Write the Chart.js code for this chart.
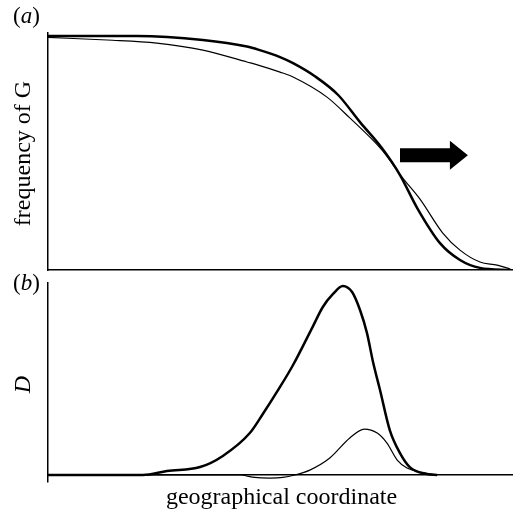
<!DOCTYPE html>
<html><head><meta charset="utf-8">
<script src="https://cdn.jsdelivr.net/npm/chart.js@4"></script>
<style>
html,body{margin:0;padding:0;background:#fff;width:513px;height:513px;overflow:hidden}
#ca{position:absolute;left:0;top:0}
#cb{position:absolute;left:0;top:268px}
</style></head><body>
<canvas id="ca" width="513" height="278"></canvas>
<canvas id="cb" width="513" height="245"></canvas>
<script>
// ---- data (geographical coordinate in arbitrary units 0..100) ----
const xFreqThick = [0, 19.1, 33.3, 42.8, 45.2, 49.9, 52.7, 57.4, 62.4, 67.1, 71.8, 75.7, 79.4, 84.3, 88.6, 92.9, 99.4];
const yFreqThick = [1.0, 1.0, 0.983, 0.955, 0.942, 0.910, 0.884, 0.828, 0.748, 0.632, 0.521, 0.406, 0.265, 0.115, 0.043, 0.009, 0];
const xFreqThin = [0, 12.7, 23.4, 33.3, 42.8, 45.2, 49.9, 52.7, 60.0, 64.9, 71.8, 76.3, 80.0, 84.9, 88.6, 92.9, 96.6, 99.4];
const yFreqThin = [0.994, 0.983, 0.970, 0.940, 0.889, 0.876, 0.846, 0.825, 0.739, 0.650, 0.513, 0.393, 0.303, 0.158, 0.085, 0.034, 0.021, 0.004];
const xDThick = [0, 20.4, 25.6, 32.7, 37.6, 43.4, 46.2, 49.9, 52.7, 57.0, 59.1, 61.3, 63.4, 65.4, 67.1, 68.6, 69.9, 71.4, 73.5, 75.7, 77.8, 81.5, 83.7];
const yDThick = [0, 0, 0.021, 0.042, 0.101, 0.222, 0.323, 0.466, 0.582, 0.788, 0.889, 0.958, 1.0, 0.968, 0.873, 0.751, 0.598, 0.450, 0.238, 0.116, 0.042, 0.005, 0];
const xDThin = [0, 41.3, 44.5, 47.7, 50.5, 53.1, 56.3, 60.6, 64.9, 68.0, 70.8, 72.9, 75.1, 77.2, 80.0, 83.7];
const yDThin = [0, 0, -0.013, -0.016, -0.013, 0, 0.026, 0.090, 0.196, 0.243, 0.222, 0.169, 0.079, 0.037, 0.016, 0];
const arrowX = [75.7, 90.3];
const arrowY = 0.491;
const panelLetters = ['a', 'b'];
const yTitles = ['frequency of G', 'D'];
const xTitle = 'geographical coordinate';

const FONT = '"Liberation Serif", "Times New Roman", serif';
const pts = (xs, ys) => xs.map((x, i) => ({x, y: ys[i]}));

const textPlugin = {
  id: 'panelText',
  afterDraw(chart, args, o) {
    const ctx = chart.ctx, a = chart.chartArea;
    ctx.save();
    ctx.fillStyle = '#000';
    ctx.textBaseline = 'alphabetic';
    let x = 13;
    const y = a.top + o.letterDy;
    ctx.font = `23px ${FONT}`; ctx.fillText('(', x, y); x += ctx.measureText('(').width;
    ctx.font = `italic 23px ${FONT}`; ctx.fillText(o.letter, x, y); x += ctx.measureText(o.letter).width;
    ctx.font = `23px ${FONT}`; ctx.fillText(')', x, y);
    ctx.save();
    ctx.translate(30, (a.top + a.bottom) / 2 + 2);
    ctx.rotate(-Math.PI / 2);
    ctx.textAlign = 'center';
    ctx.font = `${o.yItalic ? 'italic ' : ''}24px ${FONT}`;
    ctx.fillText(o.yTitle, 0, 0);
    ctx.restore();
    if (o.xTitle) {
      ctx.textAlign = 'center';
      ctx.font = `24px ${FONT}`;
      ctx.fillText(o.xTitle, (a.left + a.right) / 2 + 1, a.bottom + 22);
    }
    if (o.arrow) {
      const xs = chart.scales.x, ys = chart.scales.y;
      const x0 = xs.getPixelForValue(arrowX[0]), x1 = xs.getPixelForValue(arrowX[1]);
      const yc = ys.getPixelForValue(arrowY);
      const head = 18;
      ctx.beginPath();
      ctx.moveTo(x0, yc - 7); ctx.lineTo(x1 - head, yc - 7); ctx.lineTo(x1 - head, yc - 14.5);
      ctx.lineTo(x1, yc); ctx.lineTo(x1 - head, yc + 14.5); ctx.lineTo(x1 - head, yc + 7);
      ctx.lineTo(x0, yc + 7); ctx.closePath(); ctx.fill();
    }
    ctx.restore();
  }
};

const lineDs = (data, w) => ({data, borderColor: '#000', borderWidth: w, pointRadius: 0, fill: false, cubicInterpolationMode: 'monotone'});
const hidden = {display: false, drawTicks: false};

new Chart(document.getElementById('ca'), {
  type: 'line',
  data: {datasets: [lineDs(pts(xFreqThick, yFreqThick), 2.5), lineDs(pts(xFreqThin, yFreqThin), 1.2)]},
  options: {
    responsive: false, animation: false,
    layout: {padding: {left: 48, right: 0, top: 33, bottom: 8}},
    plugins: {legend: {display: false}, tooltip: {enabled: false},
      panelText: {letter: panelLetters[0], letterDy: -10, yTitle: yTitles[0], yItalic: false, xTitle: null, arrow: true}},
    scales: {
      x: {type: 'linear', min: 0, max: 100, grid: hidden, ticks: {display: false}, border: {display: true, color: '#000', width: 1.5}},
      y: {min: 0, max: 1.013, grid: hidden, ticks: {display: false}, border: {display: true, color: '#000', width: 1.5}}
    }
  },
  plugins: [textPlugin]
});

new Chart(document.getElementById('cb'), {
  type: 'line',
  data: {datasets: [lineDs(pts(xDThick, yDThick), 2.5), lineDs(pts(xDThin, yDThin), 1.2)]},
  options: {
    responsive: false, animation: false,
    layout: {padding: {left: 48, right: 0, top: 15, bottom: 31}},
    plugins: {legend: {display: false}, tooltip: {enabled: false},
      panelText: {letter: panelLetters[1], letterDy: 7, yTitle: yTitles[1], yItalic: true, xTitle: xTitle, arrow: false}},
    scales: {
      x: {type: 'linear', min: 0, max: 100, grid: hidden, ticks: {display: false}, border: {display: false}},
      y: {min: -0.037, max: 1.016,
          afterBuildTicks: s => { s.ticks = [{value: 0}]; },
          grid: {display: true, drawTicks: false, color: '#000', lineWidth: 1.5},
          ticks: {display: false}, border: {display: true, color: '#000', width: 1.5}}
    }
  },
  plugins: [textPlugin]
});
</script>
</body></html>
